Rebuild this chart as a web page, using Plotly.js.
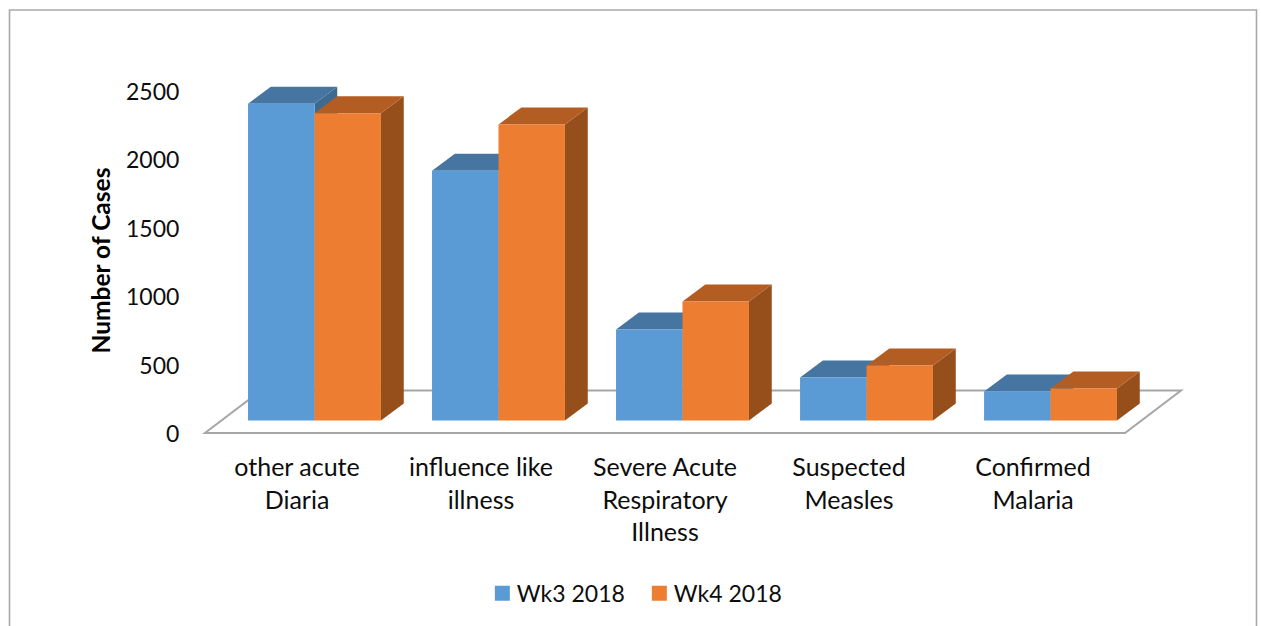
<!DOCTYPE html>
<html><head><meta charset="utf-8">
<script src="https://cdn.plot.ly/plotly-3.0.1.min.js"></script>
<style>html,body{margin:0;padding:0;background:#fff;overflow:hidden}#c{width:1261px;height:626px}</style>
</head><body><div id="c"></div>
<script>
const categories = ["other acute<br>Diaria","influence like<br>illness","Severe Acute<br>Respiratory<br>Illness","Suspected<br>Measles","Confirmed<br>Malaria"];
const wk3 = [2315, 1825, 665, 314, 212];
const wk4 = [2246, 2164, 870, 402, 234];
const yTicks = [0,500,1000,1500,2000,2500];

const W=1261,H=626, L=200,R=75,T=85,B=190, Y0=433;
const pxPerCat=184.1, pxPerVal=0.1368;
const dx=v=>v/pxPerCat, dy=v=>v/pxPerVal;
const floorBase=dy(12.5);
const xs=categories.map((_,i)=>i);
const barW=dx(66.5), off1=dx(-49), off2=off1+barW;
const depthX=dx(22.8), depthY=dy(17);
const poly=(pts,fill)=>({type:'path',xref:'x',yref:'y',layer:'below',fillcolor:fill,line:{width:0},
  path:'M'+pts.map(p=>p[0]+','+p[1]).join('L')+'Z'});
function faces(vals,off,top,side){
  const sideF=[],topF=[];
  vals.forEach((v,i)=>{
    const x0=i+off,x1=x0+barW,y0=floorBase,y1=floorBase+v;
    sideF.push(poly([[x1,y0],[x1+depthX,y0+depthY],[x1+depthX,y1+depthY],[x1,y1]],side));
    topF.push(poly([[x0,y1],[x1,y1],[x1+depthX,y1+depthY],[x0+depthX,y1+depthY]],top));
  });
  return sideF.concat(topF);
}
const floorDX=dx(56), floorDY=dy(42.5);
const floor={type:'path',xref:'x',yref:'y',layer:'below',fillcolor:'rgba(0,0,0,0)',line:{color:'#a6a6a6',width:2},
  path:`M-0.5,0L4.5,0L${4.5+floorDX},${floorDY}L${-0.5+floorDX},${floorDY}Z`};
const frame={type:'path',xref:'paper',yref:'paper',layer:'below',fillcolor:'rgba(0,0,0,0)',line:{color:'#a9a9a9',width:1.6},
  path:(()=>{const pw=W-L-R,ph=H-T-B,fx=p=>(p-L)/pw,fy=p=>1-(p-T)/ph;
    return `M${fx(9.5)},${fy(640)}L${fx(9.5)},${fy(10)}L${fx(1256.5)},${fy(10)}L${fx(1256.5)},${fy(640)}`;})()};

const font='Lato, "Open Sans", sans-serif';
const traces=[
 {type:'bar',name:'Wk3 2018',x:xs,y:wk3,base:floorBase,offset:off1,width:barW,marker:{color:'#5B9BD5',line:{width:0}},hoverinfo:'skip'},
 {type:'bar',name:'Wk4 2018',x:xs,y:wk4,base:floorBase,offset:off2,width:barW,marker:{color:'#ED7D31',line:{width:0}},hoverinfo:'skip'}
];
const layout={
 width:W,height:H,margin:{l:L,r:R,t:T,b:B,pad:0,autoexpand:false},paper_bgcolor:'#fff',plot_bgcolor:'rgba(0,0,0,0)',
 barmode:'overlay',font:{family:font,color:'#0d0d0d',size:23},
 xaxis:{range:[-0.5-dx(5),4.5+dx(61)],tickmode:'array',tickvals:xs,ticktext:categories,showgrid:false,zeroline:false,showline:false,
   ticks:'outside',ticklen:9,tickcolor:'rgba(0,0,0,0)',tickangle:0,tickfont:{family:font,size:25,color:'#0d0d0d'}},
 yaxis:{range:[dy(-(H-B-Y0)),dy(Y0-T)],tickmode:'array',tickvals:yTicks,showgrid:false,zeroline:false,showline:false,
   ticks:'outside',ticklen:15,tickcolor:'rgba(0,0,0,0)',ticklabelshift:1,tickfont:{family:font,size:23,color:'#0d0d0d'},
   title:{text:'<b>Number of Cases</b>',font:{family:font,size:24.5,color:'#000'},standoff:8}},
 legend:{orientation:'h',x:0.44,xanchor:'center',y:-0.448,yanchor:'middle',entrywidth:112,entrywidthmode:'pixels',font:{family:font,size:23,color:'#0d0d0d'},traceorder:'normal'},
 shapes:[frame,floor].concat(faces(wk3,off1,'#4575A0','#3E6A90'),faces(wk4,off2,'#B35D22','#964F1B'))
};
Plotly.newPlot('c',traces,layout,{displayModeBar:false,staticPlot:true}).then(()=>{
  document.querySelectorAll('#c .legend .legendpoints path').forEach(p=>p.setAttribute('d','M13,7.5H-2V-7.5H13Z'));
});
</script></body></html>
